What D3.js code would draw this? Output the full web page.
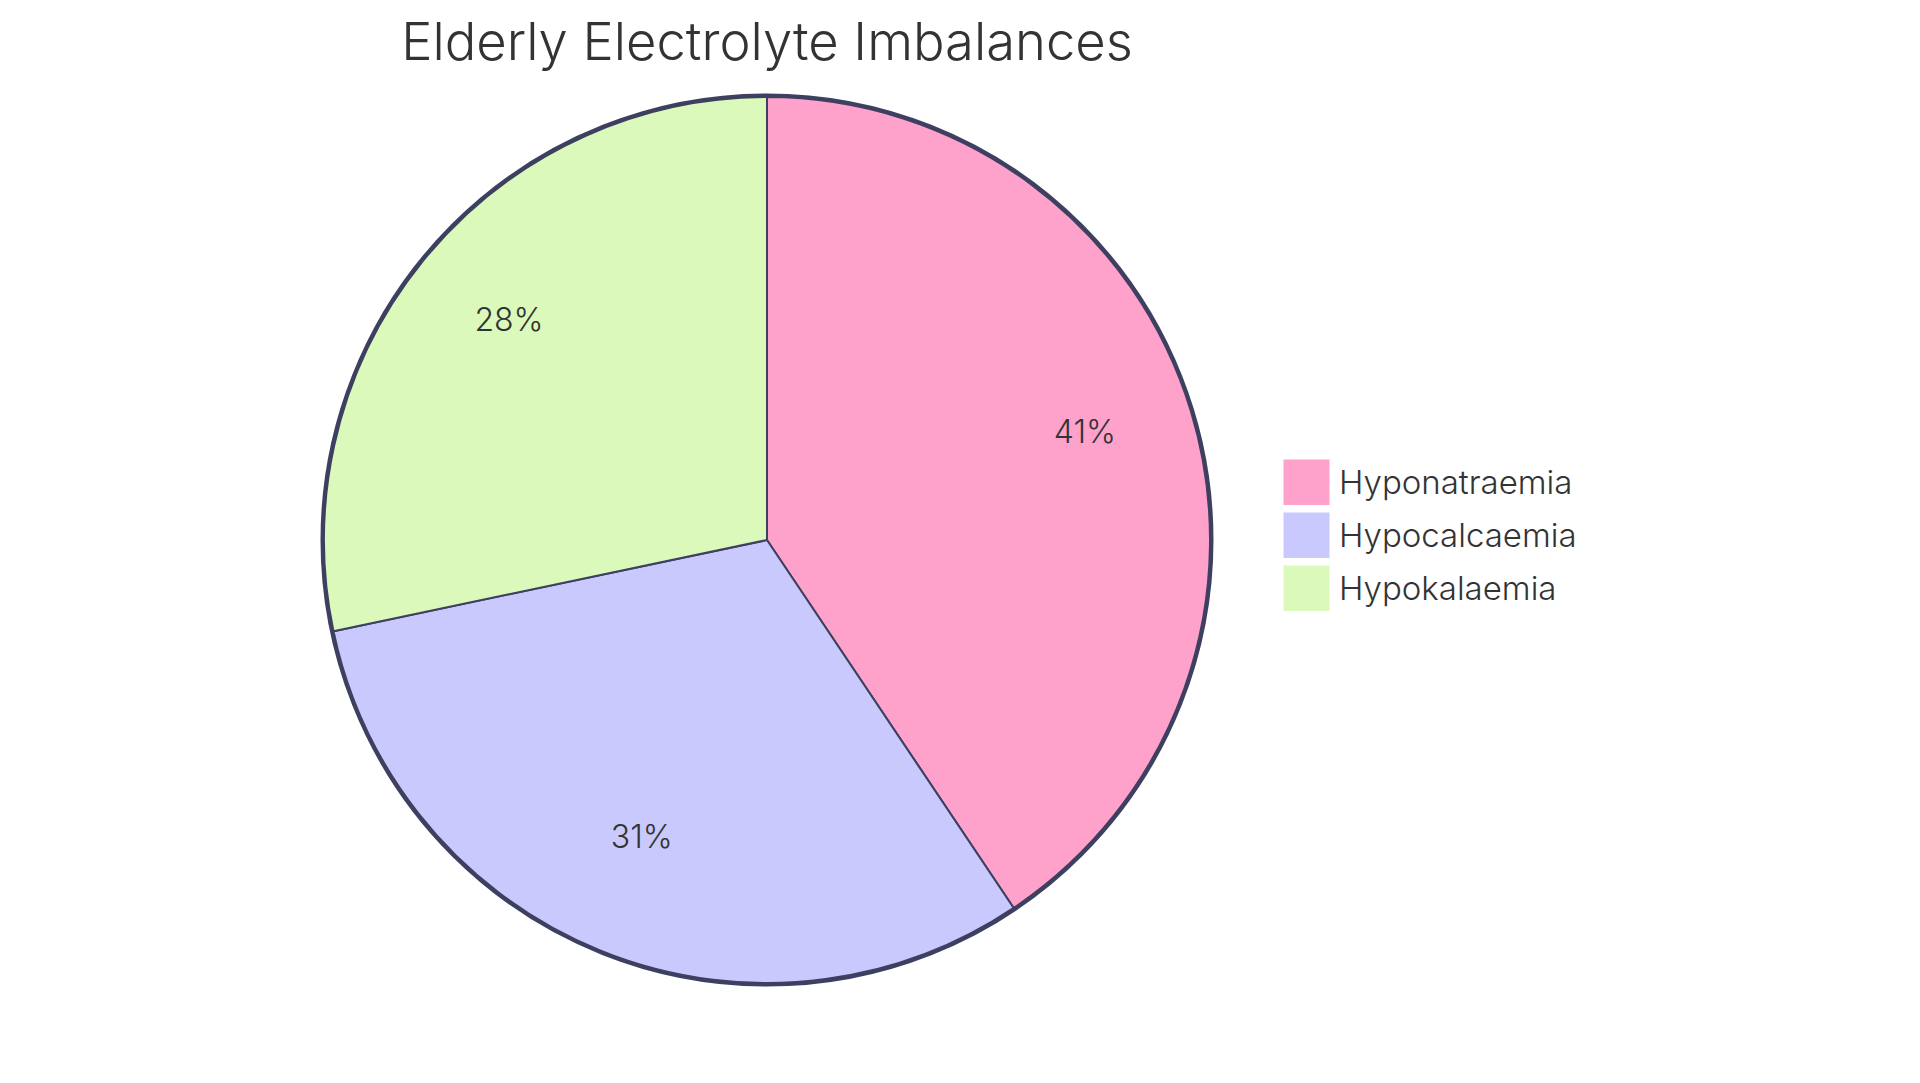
<!DOCTYPE html>
<html>
<head>
<meta charset="utf-8">
<script src="https://cdn.jsdelivr.net/npm/d3@7"></script>
<style>
  html, body { margin: 0; padding: 0; background: #fff; }
  svg { display: block; }
  text { font-family: Inter, "Open Sans", sans-serif; fill: #333; }
</style>
</head>
<body>
<svg id="chart" width="1920" height="1083"></svg>
<script>
const title = 'Elderly Electrolyte Imbalances';
const categories = ['Hyponatraemia', 'Hypocalcaemia', 'Hypokalaemia'];
const values = [40.6, 31.1, 28.3];
const colors = ['#FEA1CB', '#C9C9FD', '#DAF9BA'];

const svg = d3.select('#chart');
const cx = 767, cy = 540, radius = 443;

const data = categories.map((name, i) => ({ name, value: values[i] }));
const total = d3.sum(values);
const color = d3.scaleOrdinal().domain(categories).range(colors);

const pie = d3.pie().sort(null).value((d) => d.value);
const arc = d3.arc().innerRadius(0).outerRadius(radius);
const labelArc = d3.arc().innerRadius(radius * 0.75).outerRadius(radius * 0.75);

const g = svg.append('g').attr('transform', `translate(${cx},${cy})`);

// outer ring drawn below the slices
g.append('circle')
  .attr('r', radius + 1.5)
  .attr('fill', 'none')
  .attr('stroke', '#3d4060')
  .attr('stroke-width', 4);

const arcs = pie(data);

g.selectAll('path.slice')
  .data(arcs)
  .enter().append('path')
  .attr('class', 'slice')
  .attr('d', arc)
  .attr('fill', (d) => color(d.data.name))
  .attr('stroke', '#3d4060')
  .attr('stroke-width', 2);

g.selectAll('text.pct')
  .data(arcs)
  .enter().append('text')
  .attr('class', 'pct')
  .attr('transform', (d) => `translate(${labelArc.centroid(d)})`)
  .attr('text-anchor', 'middle')
  .style('font-size', '32px')
  .style('font-weight', 300)
  .text((d) => Math.round(d.data.value / total * 100) + '%');

// title
svg.append('text')
  .attr('x', cx)
  .attr('y', 60)
  .attr('text-anchor', 'middle')
  .style('font-size', '52.5px')
  .style('font-weight', 300)
  .text(title);

// legend
const legend = svg.append('g').attr('transform', 'translate(1284,460)');
const rows = legend.selectAll('g')
  .data(categories)
  .enter().append('g')
  .attr('transform', (d, i) => `translate(0,${i * 53})`);

rows.append('rect')
  .attr('width', 45)
  .attr('height', 44.5)
  .attr('fill', (d) => color(d))
  .attr('stroke', (d) => color(d));

rows.append('text')
  .attr('x', 55)
  .attr('y', 33.5)
  .style('font-size', '33px')
  .style('font-weight', 300)
  .text((d) => d);
</script>
</body>
</html>
